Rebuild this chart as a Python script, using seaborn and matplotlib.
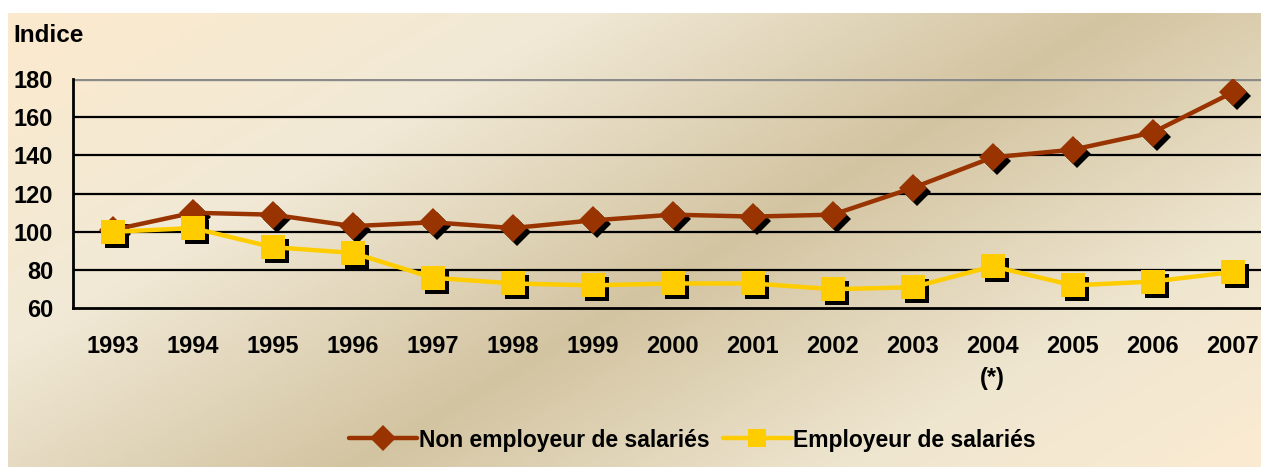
import numpy as np
import pandas as pd
import matplotlib
matplotlib.use("Agg")
import matplotlib.pyplot as plt
from matplotlib.colors import LinearSegmentedColormap
from matplotlib.transforms import offset_copy
from matplotlib.ticker import FixedLocator
import seaborn as sns

sns.set_style("white")
plt.rcParams['font.family'] = ['Liberation Sans', 'DejaVu Sans']
plt.rcParams['font.weight'] = 'bold'
plt.rcParams['text.color'] = 'black'
plt.rcParams['xtick.color'] = 'black'
plt.rcParams['ytick.color'] = 'black'

years = ['1993', '1994', '1995', '1996', '1997', '1998', '1999', '2000',
         '2001', '2002', '2003', '2004', '2005', '2006', '2007']
tick_labels = ['1993', '1994', '1995', '1996', '1997', '1998', '1999', '2000',
               '2001', '2002', '2003', '2004\n(*)', '2005', '2006', '2007']
non_employeur = [101, 110, 109, 103, 105, 102, 106, 109, 108, 109, 123, 139, 143, 152, 173]
employeur = [100, 102, 92, 89, 76, 73, 72, 73, 73, 70, 71, 82, 72, 74, 79]

df = pd.DataFrame({'pos': range(len(years)), 'year': years,
                   'non': non_employeur, 'emp': employeur})

W, H = 1261, 467
fig = plt.figure(figsize=(W / 100, H / 100), dpi=100)
fig.patch.set_facecolor('white')

# gradient background (parchment look)
bg = fig.add_axes([8 / W, 0, 1 - 8 / W, 1 - 13 / H], zorder=0)
gx, gy = np.meshgrid(np.linspace(0, 1, 400), np.linspace(0, 1, 160))
t = 0.62 * gx + 0.38 * gy
cmap = LinearSegmentedColormap.from_list(
    'parch', [(0, '#fceacd'), (0.28, '#f1e9d6'), (0.55, '#d3c4a1'),
              (0.8, '#efe6d0'), (1, '#fbebd2')])
bg.imshow(t, cmap=cmap, aspect='auto', extent=[0, 1, 0, 1], origin='upper',
          interpolation='bilinear')
bg.set_axis_off()

ax = fig.add_axes([72.7 / W, 1 - 308.3 / H, 1200 / W, (308.3 - 79) / H], zorder=1)
ax.set_facecolor('none')

brown = '#993300'
yellow = '#ffcc00'

# marker shadows
shadow = offset_copy(ax.transData, fig=fig, x=4, y=-4, units='dots')
ax.plot(df['pos'], df['non'], 'D', color='black', markersize=14, mew=0,
        transform=shadow, zorder=2)
ax.plot(df['pos'], df['emp'], 's', color='black', markersize=17, mew=0,
        transform=shadow, zorder=2)

sns.lineplot(data=df, x='pos', y='non', ax=ax, color=brown, lw=3.2,
             marker='D', markersize=14, markeredgewidth=0,
             label='Non employeur de salariés', zorder=3)
sns.lineplot(data=df, x='pos', y='emp', ax=ax, color=yellow, lw=3.2,
             marker='s', markersize=17, markeredgewidth=0,
             label='Employeur de salariés', zorder=4)

ax.set_xlim(-0.5, len(years) - 0.5)
ax.set_ylim(60, 180)
ax.set_yticks(range(60, 181, 20))
ax.set_xticks(df['pos'])
ax.set_xticklabels(tick_labels, fontsize=17, fontweight='bold', linespacing=1.5)
ax.xaxis.set_minor_locator(FixedLocator(np.arange(-0.5, len(years), 1)))
ax.tick_params(axis='x', which='major', length=0, pad=19)
ax.tick_params(axis='x', which='minor', length=5, width=1.6, color='black', direction='out')
ax.tick_params(axis='y', length=5, width=1.6, color='black', direction='out',
               pad=9, labelsize=17)
for lab in ax.get_yticklabels():
    lab.set_fontweight('bold')
ax.set_xlabel('')
ax.set_ylabel('')

for v in range(80, 180, 20):
    ax.axhline(v, color='black', lw=1.6, zorder=1)
ax.axhline(180, color='#8a8a8a', lw=2.4, zorder=1)

for s in ['top', 'right']:
    ax.spines[s].set_visible(False)
for s in ['left', 'bottom']:
    ax.spines[s].set_color('black')
    ax.spines[s].set_linewidth(2)

fig.text(13 / W, 1 - 35 / H, 'Indice', fontsize=17.5, fontweight='bold', va='center')

leg = ax.legend(loc='center', bbox_to_anchor=(692 / W, 1 - 440 / H),
                bbox_transform=fig.transFigure, ncol=2, frameon=False,
                handlelength=3.0, columnspacing=0.6, handletextpad=0.05,
                prop={'size': 16.5, 'weight': 'bold'})
for h in leg.legend_handles:
    h.set_markersize(13)

fig.savefig('out.png', dpi=100)
